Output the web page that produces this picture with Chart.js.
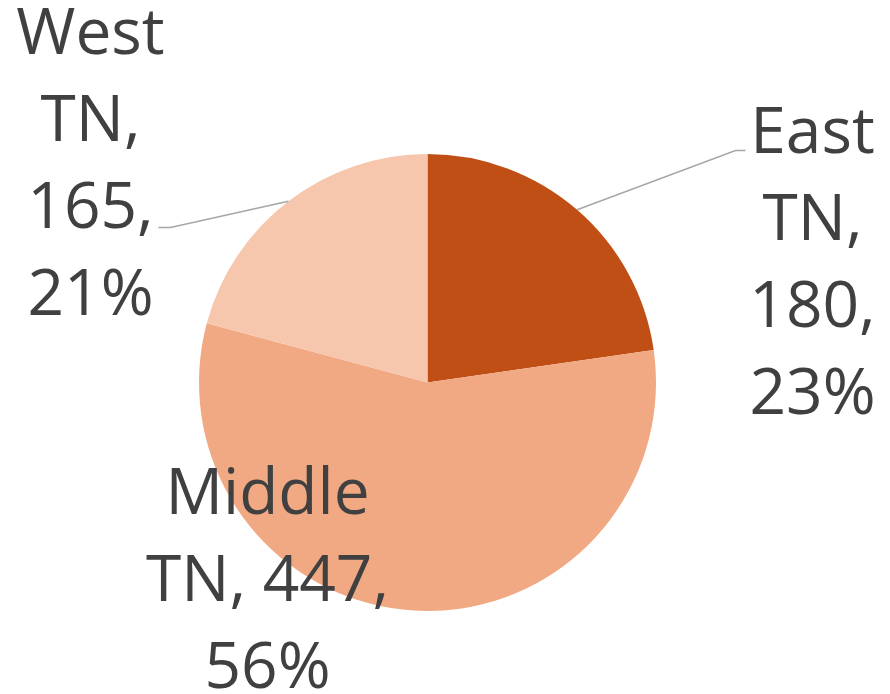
<!DOCTYPE html>
<html>
<head>
<meta charset="utf-8">
<script src="https://cdn.jsdelivr.net/npm/chart.js@4"></script>
<style>
  html, body { margin: 0; padding: 0; background: #fff; }
  #wrap { width: 890px; height: 694px; }
</style>
</head>
<body>
<div id="wrap"><canvas id="pie"></canvas></div>
<script>
const regions = ['East TN', 'Middle TN', 'West TN'];
const counts = [180, 447, 165];
const colors = ['#C04F15', '#F1A983', '#F6C6AD'];

// label lines per slice (text), and where each block sits relative to pie centre
const labelLines = [
  ['East', 'TN,', '180,', '23%'],
  ['Middle', 'TN, 447,', '56%'],
  ['West', 'TN,', '165,', '21%']
];
const labelOffsets = [[385, -230], [-160, 131], [-337, -329]];
const leaderEnds = [[[308, -232], [318, -232]], null, [[-257, -155], [-269, -155]]];

const dataLabels = {
  id: 'dataLabels',
  afterDatasetsDraw(chart) {
    const ctx = chart.ctx;
    const arcs = chart.getDatasetMeta(0).data;
    ctx.save();
    arcs.forEach((arc, i) => {
      const { x, y, outerRadius, startAngle, endAngle } = arc.getProps(['x', 'y', 'outerRadius', 'startAngle', 'endAngle'], true);
      const mid = (startAngle + endAngle) / 2;
      // leader line
      if (leaderEnds[i]) {
        ctx.strokeStyle = '#A6A6A6';
        ctx.lineWidth = 1.5;
        ctx.beginPath();
        ctx.moveTo(x + Math.cos(mid) * outerRadius, y + Math.sin(mid) * outerRadius);
        leaderEnds[i].forEach(p => ctx.lineTo(x + p[0], y + p[1]));
        ctx.stroke();
      }
      // text
      ctx.fillStyle = '#404040';
      ctx.font = '64px "Open Sans"';
      ctx.textAlign = 'center';
      ctx.textBaseline = 'alphabetic';
      labelLines[i].forEach((t, k) => {
        ctx.fillText(t, x + labelOffsets[i][0], y + labelOffsets[i][1] + k * 87);
      });
    });
    ctx.restore();
  }
};

new Chart(document.getElementById('pie'), {
  type: 'pie',
  data: {
    labels: regions,
    datasets: [{
      data: counts,
      backgroundColor: colors,
      borderWidth: 0
    }]
  },
  options: {
    responsive: true,
    maintainAspectRatio: false,
    animation: false,
    layout: { padding: { left: 199, right: 234, top: 154, bottom: 83 } },
    plugins: {
      legend: { display: false },
      tooltip: { enabled: false }
    }
  },
  plugins: [dataLabels]
});
</script>
</body>
</html>
